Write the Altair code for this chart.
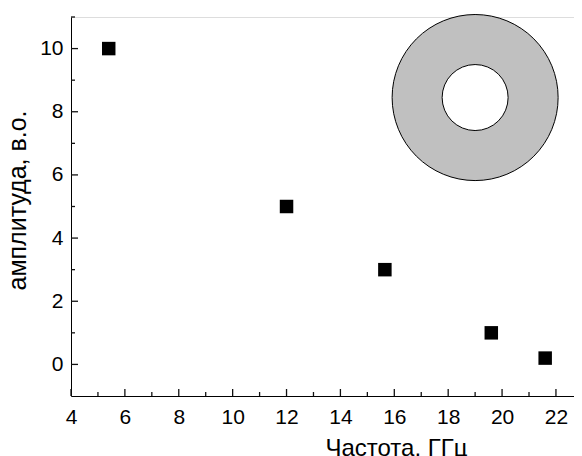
import altair as alt
import pandas as pd

# data
freq = [5.4, 12.0, 15.65, 19.6, 21.6]
amp = [10, 5, 3, 1, 0.2]

# inset ring centre (data coordinates)
ring_x = [19.0]
ring_y = [8.45]

# axis ticks
x_major = [4, 6, 8, 10, 12, 14, 16, 18, 20, 22]
x_minor = [5, 7, 9, 11, 13, 15, 17, 19, 21]
y_major = [0, 2, 4, 6, 8, 10]
y_minor = [1, 3, 5, 7, 9, 11]

W, H = 503, 379
FONT = "Liberation Sans"

xs = alt.Scale(domain=[4, 22.67], nice=False, zero=False)
ys = alt.Scale(domain=[-1, 11], nice=False, zero=False)

pts = pd.DataFrame({"f": freq, "a": amp})
ring = pd.DataFrame({"f": ring_x, "a": ring_y})

X_AXIS = alt.Axis(
    values=x_major, title="Частота, ГГц", ticks=False, tickSize=0, grid=False,
    labelPadding=10, labelFontSize=21, labelFont=FONT, labelColor="black",
    titleFont=FONT, titleFontSize=24, titleFontWeight="normal", titleColor="black",
    titleX=325, titleY=59, titleAlign="center", titleBaseline="alphabetic",
    domainColor="black", domainWidth=1, labelFlush=False, labelOverlap=False,
)
Y_AXIS = alt.Axis(
    values=y_major, title="амплитуда, в.о.", ticks=False, tickSize=0, grid=False,
    labelPadding=8, labelFontSize=21, labelFont=FONT, labelColor="black",
    titleFont=FONT, titleFontSize=25, titleFontWeight="normal", titleColor="black",
    titleX=-46, titleY=183, titleAlign="center", titleBaseline="alphabetic", titleAngle=270,
    domainColor="black", domainWidth=1, labelFlush=False, labelOverlap=False,
)

scatter = alt.Chart(pts).mark_point(
    shape="square", filled=True, color="black", size=182, opacity=1
).encode(
    x=alt.X("f:Q", scale=xs, axis=X_AXIS),
    y=alt.Y("a:Q", scale=ys, axis=Y_AXIS),
)

outer = alt.Chart(ring).mark_point(
    shape="circle", filled=True, fill="#c0c0c0", stroke="black", strokeWidth=1,
    size=166 * 166, opacity=1, fillOpacity=1, strokeOpacity=1
).encode(
    x=alt.X("f:Q", scale=xs, axis=X_AXIS),
    y=alt.Y("a:Q", scale=ys, axis=Y_AXIS),
)
inner = alt.Chart(ring).mark_point(
    shape="circle", filled=True, fill="white", stroke="black", strokeWidth=1,
    size=66 * 66, opacity=1, fillOpacity=1, strokeOpacity=1
).encode(
    x=alt.X("f:Q", scale=xs, axis=X_AXIS),
    y=alt.Y("a:Q", scale=ys, axis=Y_AXIS),
)

def yticks(vals, length, name):
    return alt.Chart(pd.DataFrame({name: vals})).mark_tick(
        orient="horizontal", color="#111111", thickness=1.3, size=length, opacity=1
    ).encode(
        y=alt.Y(f"{name}:Q", scale=ys, axis=Y_AXIS),
        x=alt.value(length / 2),
    )

def xticks(vals, length, name):
    return alt.Chart(pd.DataFrame({name: vals})).mark_tick(
        orient="vertical", color="#111111", thickness=1.3, size=length, opacity=1
    ).encode(
        x=alt.X(f"{name}:Q", scale=xs, axis=X_AXIS),
        y=alt.value(H - length / 2),
    )

chart = alt.layer(
    yticks(y_major, 7, "ymaj"), yticks(y_minor, 4, "ymin"),
    xticks(x_major, 7, "xmaj"), xticks(x_minor, 4, "xmin"),
    outer, inner, scatter,
).properties(
    width=W, height=H,
    autosize=alt.AutoSizeParams(type="none"),
    padding={"left": 63, "top": 9, "right": 0, "bottom": 64},
).configure_view(stroke="transparent", strokeWidth=0).configure(background="white")

chart.save("out.html", embed_options={"renderer": "svg", "actions": False})
